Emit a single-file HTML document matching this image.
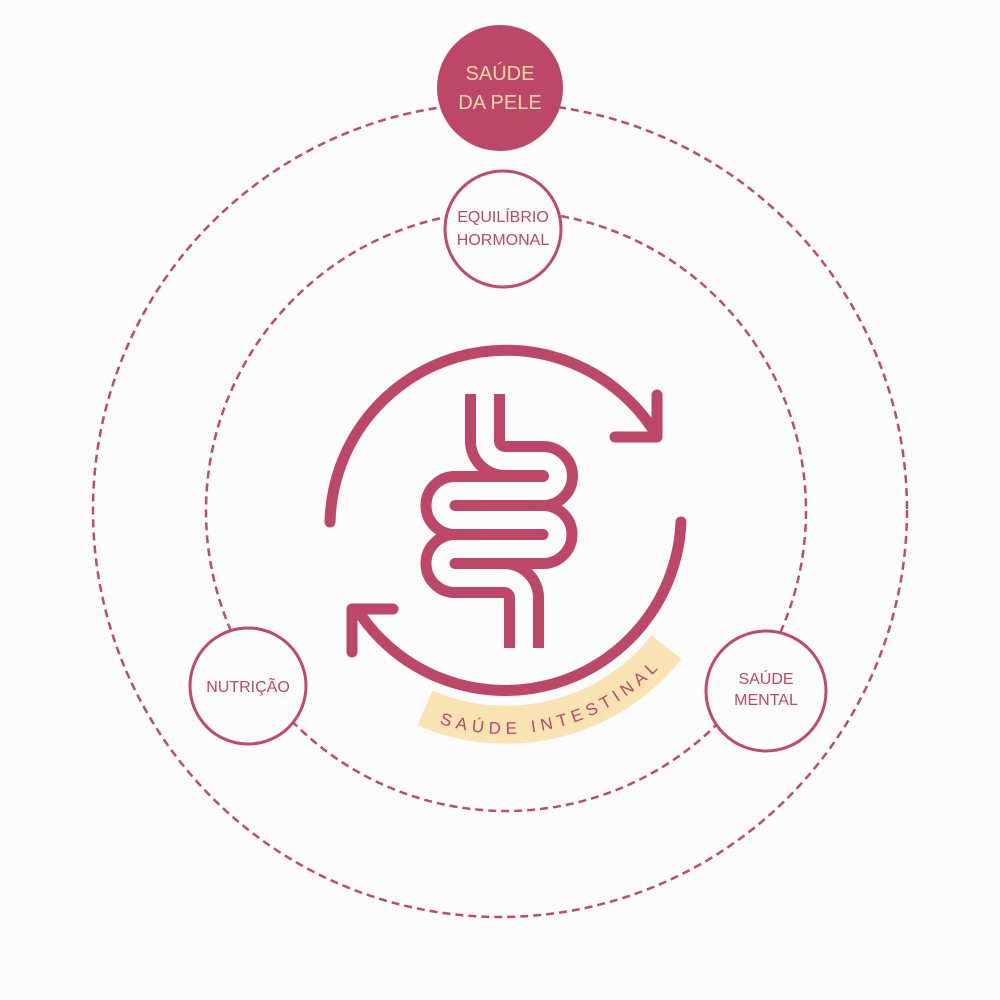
<!DOCTYPE html>
<html><head><meta charset="utf-8"><style>
html,body{margin:0;padding:0;background:#fdfcfc;}
svg{display:block}
text{font-family:"Liberation Sans","DejaVu Sans",sans-serif;}
</style></head><body>
<svg width="1000" height="1000" viewBox="0 0 1000 1000" xmlns="http://www.w3.org/2000/svg">
<rect width="1000" height="1000" fill="#fdfcfc"/>
<g fill="none" stroke="#bf4a6c" stroke-width="2.5" stroke-dasharray="8 5">
<circle cx="500" cy="510" r="407"/>
<circle cx="506" cy="511" r="300"/>
</g>
<!-- yellow band -->
<path d="M 425.0 708.1 A 205 205 0 0 0 666.5 647.2" fill="none" stroke="#f9e3b3" stroke-width="38"/>
<path id="tp" d="M 439.2 723.6 A 213 213 0 0 0 679.5 643.2" fill="none"/>
<text font-size="17" fill="#b8486a"><textPath href="#tp" textLength="238" lengthAdjust="spacing">SAÚDE INTESTINAL</textPath></text>
<!-- arrows -->
<g fill="none" stroke="#bd4768" stroke-width="11" stroke-linecap="round" stroke-linejoin="round">
<path d="M 330 522 A 176 176 0 0 1 652 428"/>
<path d="M 657 395 V 437 H 615"/>
<path d="M 681 522 A 176 176 0 0 1 360 614"/>
<path d="M 352 652 V 609 H 393"/>
</g>
<!-- intestine -->
<path d="M485,394 V441 A20,20 0 0 0 505,461 H543 A15,15 0 0 1 543,491 H455 A14.5,14.5 0 0 0 455,520 H543 A14.5,14.5 0 0 1 543,549 H455 A14.5,14.5 0 0 0 455,578 H504 A20,20 0 0 1 524,598 V648" fill="none" stroke="#bd4768" stroke-width="40"/>
<path d="M485,390 V441 A20,20 0 0 0 505,461 H543 A15,15 0 0 1 543,491 H455 A14.5,14.5 0 0 0 455,520 H543 A14.5,14.5 0 0 1 543,549 H455 A14.5,14.5 0 0 0 455,578 H504 A20,20 0 0 1 524,598 V652" fill="none" stroke="#fdfcfc" stroke-width="18"/>
<!-- nodes -->
<circle cx="500" cy="88" r="63" fill="#bd4768"/>
<text x="500" y="80" font-size="20" fill="#f6d9a6" text-anchor="middle">SAÚDE</text>
<text x="500" y="109" font-size="20" fill="#f6d9a6" text-anchor="middle">DA PELE</text>
<g fill="#fdfcfc" stroke="#c04a6c" stroke-width="3">
<circle cx="503" cy="229" r="58"/>
<circle cx="248" cy="686" r="58"/>
<circle cx="766" cy="691" r="60"/>
</g>
<g font-size="16" fill="#bd4768" text-anchor="middle">
<text x="503" y="222">EQUILÍBRIO</text>
<text x="503" y="245">HORMONAL</text>
<text x="248" y="692">NUTRIÇÃO</text>
<text x="766" y="684">SAÚDE</text>
<text x="766" y="705">MENTAL</text>
</g>
</svg>
</body></html>
